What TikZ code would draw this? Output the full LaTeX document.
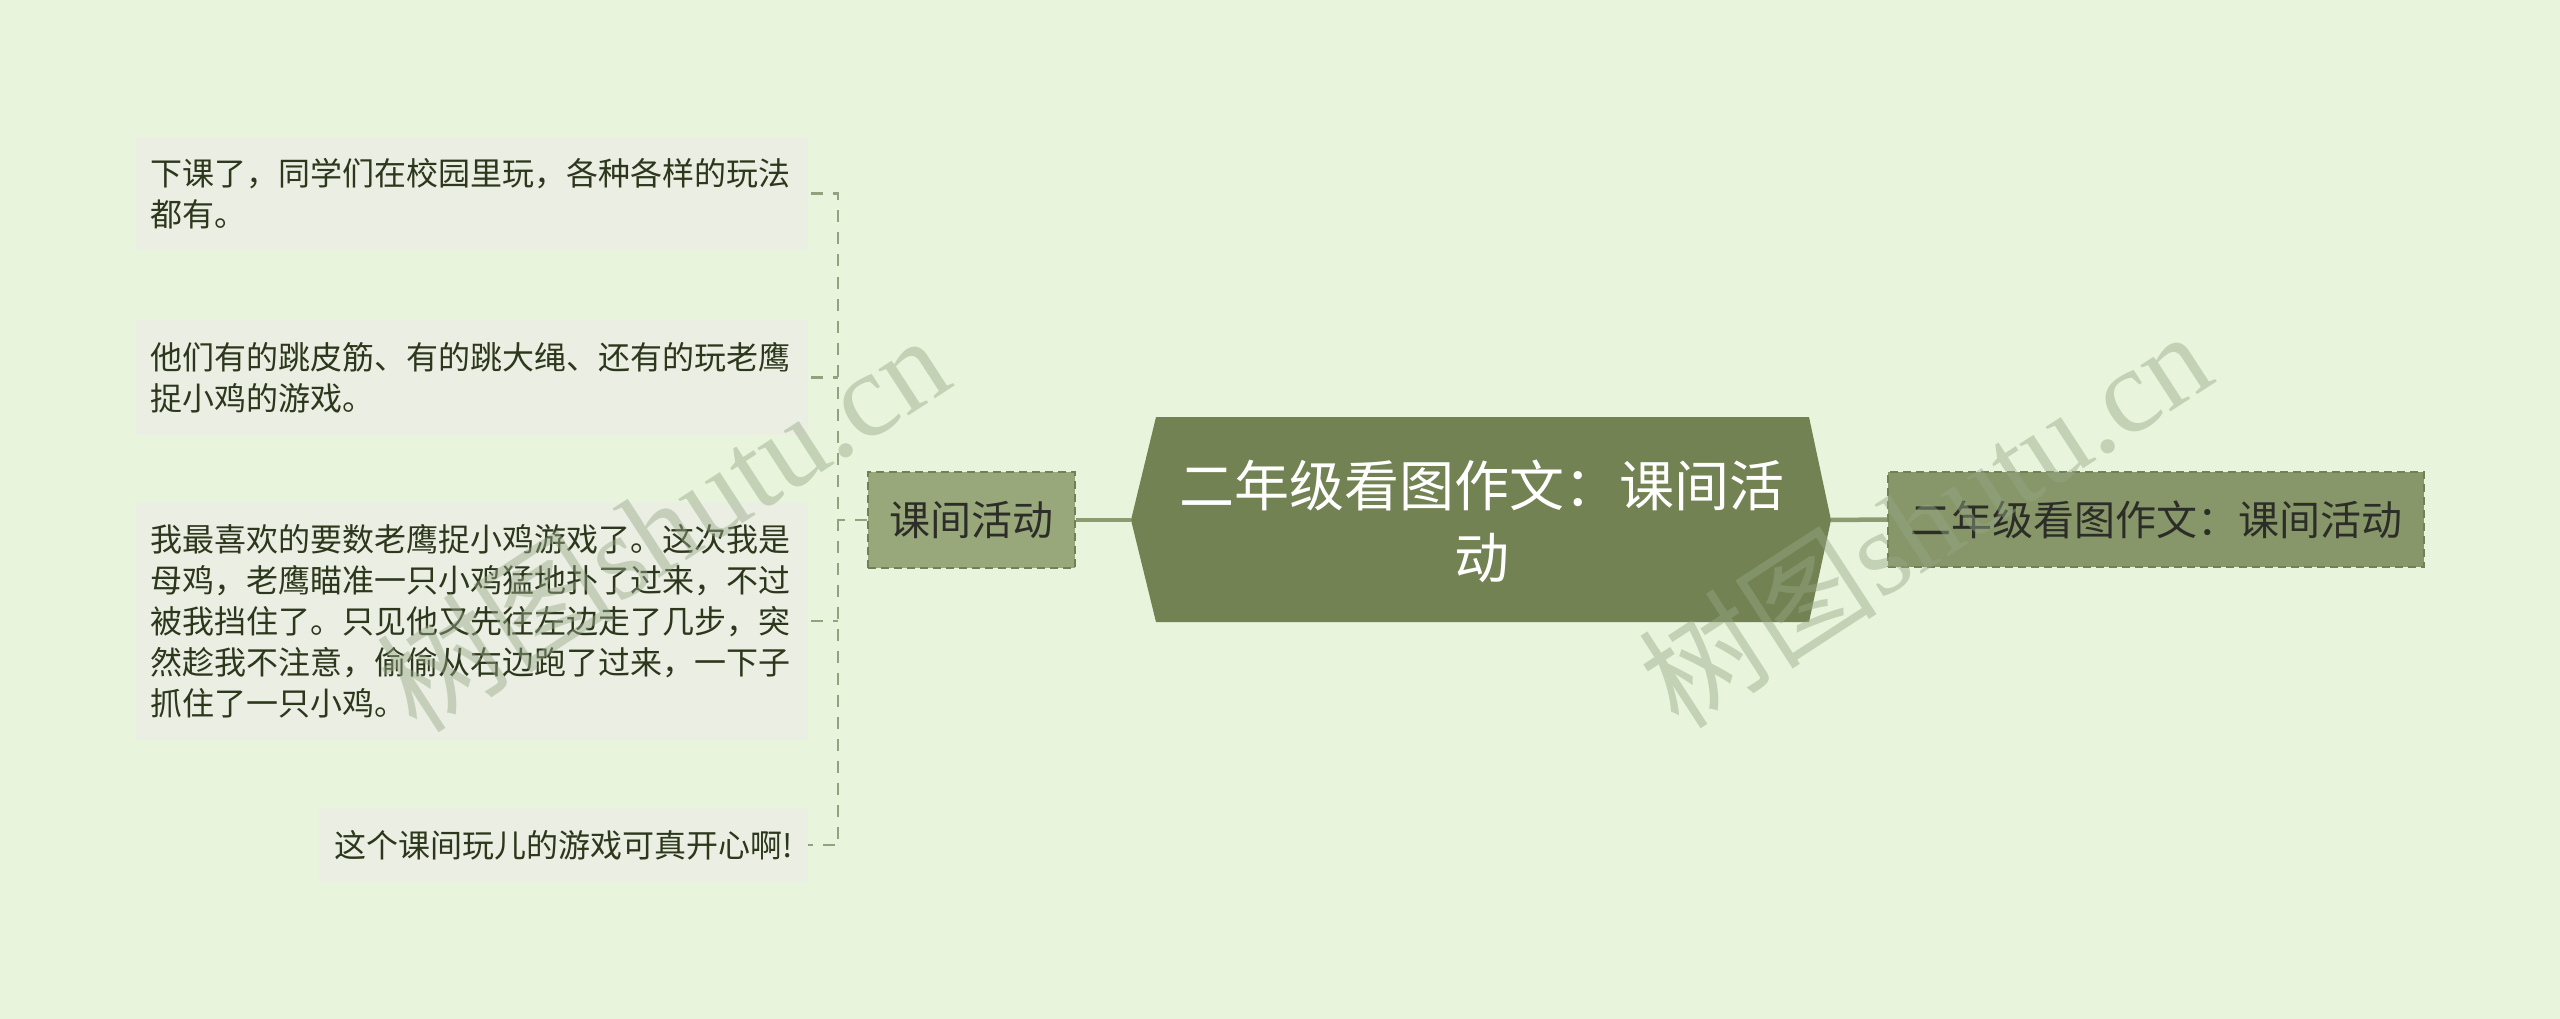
\documentclass[tikz,border=0pt]{standalone}
\usepackage{fontspec}
\setmainfont{Noto Sans CJK SC}
\newfontfamily\wmlatin{Liberation Serif}
\usetikzlibrary{calc}
\definecolor{bg}{RGB}{232,245,220}
\definecolor{leaffill}{RGB}{234,238,227}
\definecolor{leaftext}{RGB}{45,55,28}
\definecolor{centerfill}{RGB}{114,130,83}
\definecolor{subfill}{RGB}{153,168,123}
\definecolor{rightfill}{RGB}{135,151,106}
\definecolor{subborder}{RGB}{112,130,85}
\definecolor{nodetext}{RGB}{45,45,40}
\definecolor{linkcol}{RGB}{140,156,112}
\definecolor{spinecol}{RGB}{148,160,126}
\definecolor{wmcol}{RGB}{150,168,135}
\begin{document}
\begin{tikzpicture}[x=1pt,y=-1pt,
  leaf/.style={fill=leaffill, text=leaftext, font=\fontsize{32}{41}\selectfont,
    align=left, inner xsep=15pt, inner ysep=0pt, anchor=east},
  subbox/.style={fill=subfill, draw=subborder, dash pattern=on 8pt off 5pt, line width=1.5pt,
    text=nodetext, font=\fontsize{41}{50}\selectfont, inner sep=0pt},
  rightbox/.style={fill=rightfill, draw=subborder, dash pattern=on 8pt off 5pt, line width=1.5pt,
    text=nodetext, font=\fontsize{41}{50}\selectfont, inner sep=0pt},
  ctext/.style={text=white, font=\fontsize{55}{72}\selectfont, align=center, inner sep=0pt},
  link/.style={draw=linkcol, line width=4.5pt},
  spine/.style={draw=spinecol, line width=2.5pt, dash pattern=on 12pt off 10pt},
  wm/.style={text=wmcol, opacity=0.45, inner sep=0pt, font=\fontsize{120}{120}\selectfont}
]
\useasboundingbox (0,0) rectangle (2560,1019);
\fill[bg] (0,0) rectangle (2560,1019);

% central topic shape
\fill[centerfill] (1131,520) -- (1156,417) -- (1809,417) -- (1831,520) -- (1809,622) -- (1156,622) -- cycle;
\coordinate (cL) at (1131,520);
\coordinate (cR) at (1831,520);
\node[ctext] (c) at (1482,521) {二年级看图作文：课间活\\动};

% subtopic and right node
\node[subbox, minimum width=207pt, minimum height=96pt] (s) at (971.5,520) {课间活动};
\node[rightbox, minimum width=536pt, minimum height=95pt] (r) at (2156,519.5) {二年级看图作文：课间活动};

% leaves
\node[leaf, text width=642pt, minimum height=113pt] (l1) at (808,193.5)
  {下课了，同学们在校园里玩，各种各样的玩法\\都有。};
\node[leaf, text width=642pt, minimum height=115pt] (l2) at (808,377.5)
  {他们有的跳皮筋、有的跳大绳、还有的玩老鹰\\捉小鸡的游戏。};
\node[leaf, text width=642pt, minimum height=238pt] (l3) at (808,621)
  {我最喜欢的要数老鹰捉小鸡游戏了。这次我是\\母鸡，老鹰瞄准一只小鸡猛地扑了过来，不过\\被我挡住了。只见他又先往左边走了几步，突\\然趁我不注意，偷偷从右边跑了过来，一下子\\抓住了一只小鸡。};
\node[leaf, minimum height=74pt] (l4) at (808,845)
  {这个课间玩儿的游戏可真开心啊!};

% connectors
\draw[link] (s.east) -- (cL);
\draw[link] (cR) -- (r.west);
\coordinate (jx) at (838,0);
\draw[spine, shorten <=3pt] (l1.east) -- (l1.east -| jx) -- (l4.east -| jx) -- (l4.east);
\draw[spine, shorten <=3pt] (l2.east) -- (l2.east -| jx);
\draw[spine, shorten <=3pt] (l3.east) -- (l3.east -| jx);
\draw[spine] (s.west) -- (s.west -| jx);

% watermarks
\node[wm, rotate=33] (w1) at (662,522) {树图{\wmlatin shutu.cn}};
\node[wm, rotate=33] (w2) at (1924,518) {树图{\wmlatin shutu.cn}};
\end{tikzpicture}
\end{document}
